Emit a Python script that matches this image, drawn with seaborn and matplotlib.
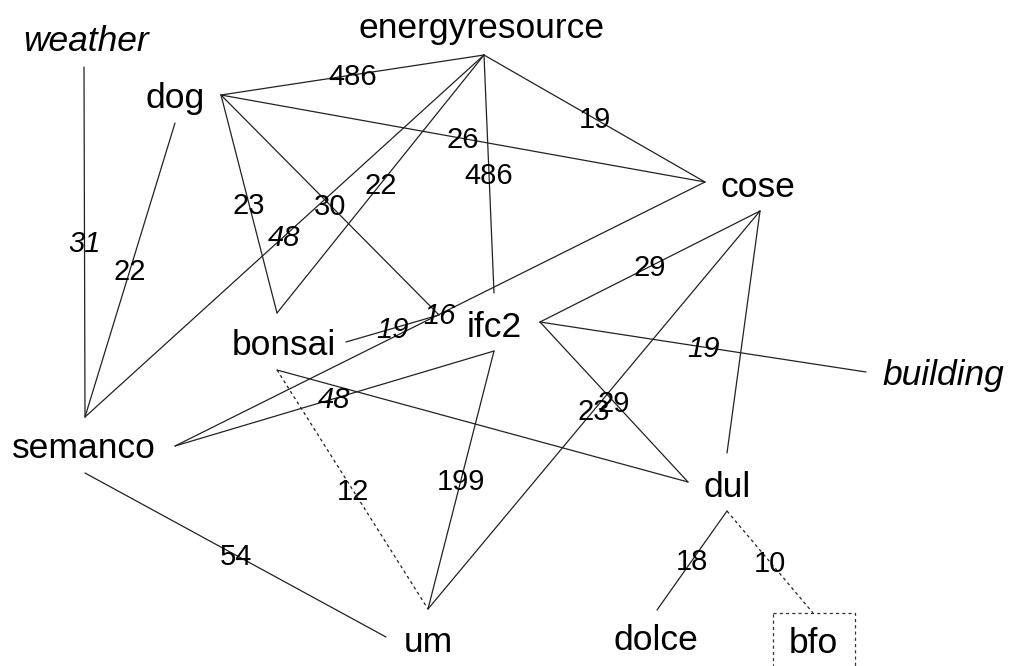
import matplotlib
matplotlib.use("Agg")
import matplotlib.pyplot as plt
from matplotlib.patches import Rectangle
import seaborn as sns
import pandas as pd

# ---------------- data ----------------
nodes = ["weather", "dog", "energyresource", "cose", "bonsai", "ifc2",
         "semanco", "building", "dul", "um", "dolce", "bfo"]
italic_nodes = ["weather", "building"]

edge_src = ["weather", "dog", "dog", "dog", "dog", "dog",
            "energyresource", "energyresource", "energyresource", "energyresource",
            "cose", "bonsai", "ifc2", "ifc2", "ifc2", "cose", "cose",
            "ifc2", "ifc2", "bonsai", "bonsai", "semanco", "dul", "dul"]
edge_src_port = ["b", "b", "r", "r", "r", "r",
                 "b", "b", "b", "b",
                 "l", "r", "r", "r", "r", "b", "b",
                 "b", "b", "b", "b", "b", "b", "b"]
edge_dst = ["semanco", "semanco", "energyresource", "cose", "bonsai", "ifc2",
            "bonsai", "semanco", "ifc2", "cose",
            "semanco", "ifc2", "cose", "building", "dul", "um", "dul",
            "semanco", "um", "dul", "um", "um", "dolce", "bfo"]
edge_dst_port = ["t", "t", "b", "l", "t", "l",
                 "t", "t", "t", "l",
                 "r", "l", "b", "l", "l", "t", "t",
                 "r", "t", "l", "t", "l", "t", "t"]
edge_weight = [31, 22, 486, 26, 23, 30,
               22, 48, 486, 19,
               16, 19, 29, 19, 29, 23, None,
               48, 199, None, 12, 54, 18, 10]
edge_italic = [True, False, False, False, False, False,
               False, True, False, False,
               True, True, False, True, False, False, False,
               True, False, False, False, False, False, False]
edge_dashed = [False] * 20 + [True, False, False, True]

# ---------------- layout (pixel space) ----------------
label_pos = {
    "weather": (86, 51), "dog": (175, 108), "energyresource": (482, 38),
    "cose": (758, 197), "bonsai": (284, 355), "ifc2": (494, 337),
    "semanco": (84, 458), "building": (943, 385), "dul": (727, 497),
    "um": (428, 652), "dolce": (656, 650), "bfo": (813, 653),
}
ports = {
    "weather": {"b": (84, 67)},
    "dog": {"r": (221, 95), "b": (175, 123)},
    "energyresource": {"b": (484, 55)},
    "cose": {"l": (705, 182), "b": (760, 211)},
    "bonsai": {"t": (277, 313), "r": (346, 342), "b": (277, 370)},
    "ifc2": {"t": (494, 293), "l": (439, 315), "r": (540, 322), "b": (494, 351)},
    "semanco": {"t": (85, 417), "r": (175, 446), "b": (85, 473)},
    "building": {"l": (866, 372)},
    "dul": {"t": (727, 453), "l": (688, 482), "b": (727, 511)},
    "um": {"t": (428, 609), "l": (386, 637)},
    "dolce": {"t": (657, 610)},
    "bfo": {"t": (813, 613)},
}

W, H = 1010, 666
sns.set_theme(style="white")
plt.rcParams["font.family"] = ["Liberation Sans", "DejaVu Sans"]

fig = plt.figure(figsize=(W / 100, H / 100), dpi=100)
ax = fig.add_axes([0, 0, 1, 1])

rows = []
for i, (s, sp, d, dp) in enumerate(zip(edge_src, edge_src_port, edge_dst, edge_dst_port)):
    kind = "dashed" if edge_dashed[i] else "solid"
    x1, y1 = ports[s][sp]
    x2, y2 = ports[d][dp]
    rows.append({"x": x1, "y": y1, "edge": i, "kind": kind})
    rows.append({"x": x2, "y": y2, "edge": i, "kind": kind})
df = pd.DataFrame(rows)

sns.lineplot(data=df, x="x", y="y", units="edge", estimator=None, sort=False,
             style="kind", style_order=["solid", "dashed"],
             dashes={"solid": "", "dashed": (2.5, 2.5)},
             color="#222222", linewidth=0.9, legend=False, ax=ax)

# edge labels at midpoints
for i in range(len(edge_src)):
    w = edge_weight[i]
    if w is None:
        continue
    x1, y1 = ports[edge_src[i]][edge_src_port[i]]
    x2, y2 = ports[edge_dst[i]][edge_dst_port[i]]
    ax.text((x1 + x2) / 2, (y1 + y2) / 2 + 2, str(w), ha="center", va="center",
            fontsize=21, color="black",
            style="italic" if edge_italic[i] else "normal")

# node labels
for n in nodes:
    x, y = label_pos[n]
    ax.text(x, y, n, ha="center", va="baseline", fontsize=25.5, color="black",
            style="italic" if n in italic_nodes else "normal")

# dashed box around bfo
ax.add_patch(Rectangle((773, 613), 82, 80, fill=False, edgecolor="#333333",
                       linestyle=(0, (2.5, 2.5)), linewidth=0.9))

ax.set_xlim(0, W)
ax.set_ylim(H, 0)
ax.axis("off")
fig.savefig("out.png", dpi=100, facecolor="white")
